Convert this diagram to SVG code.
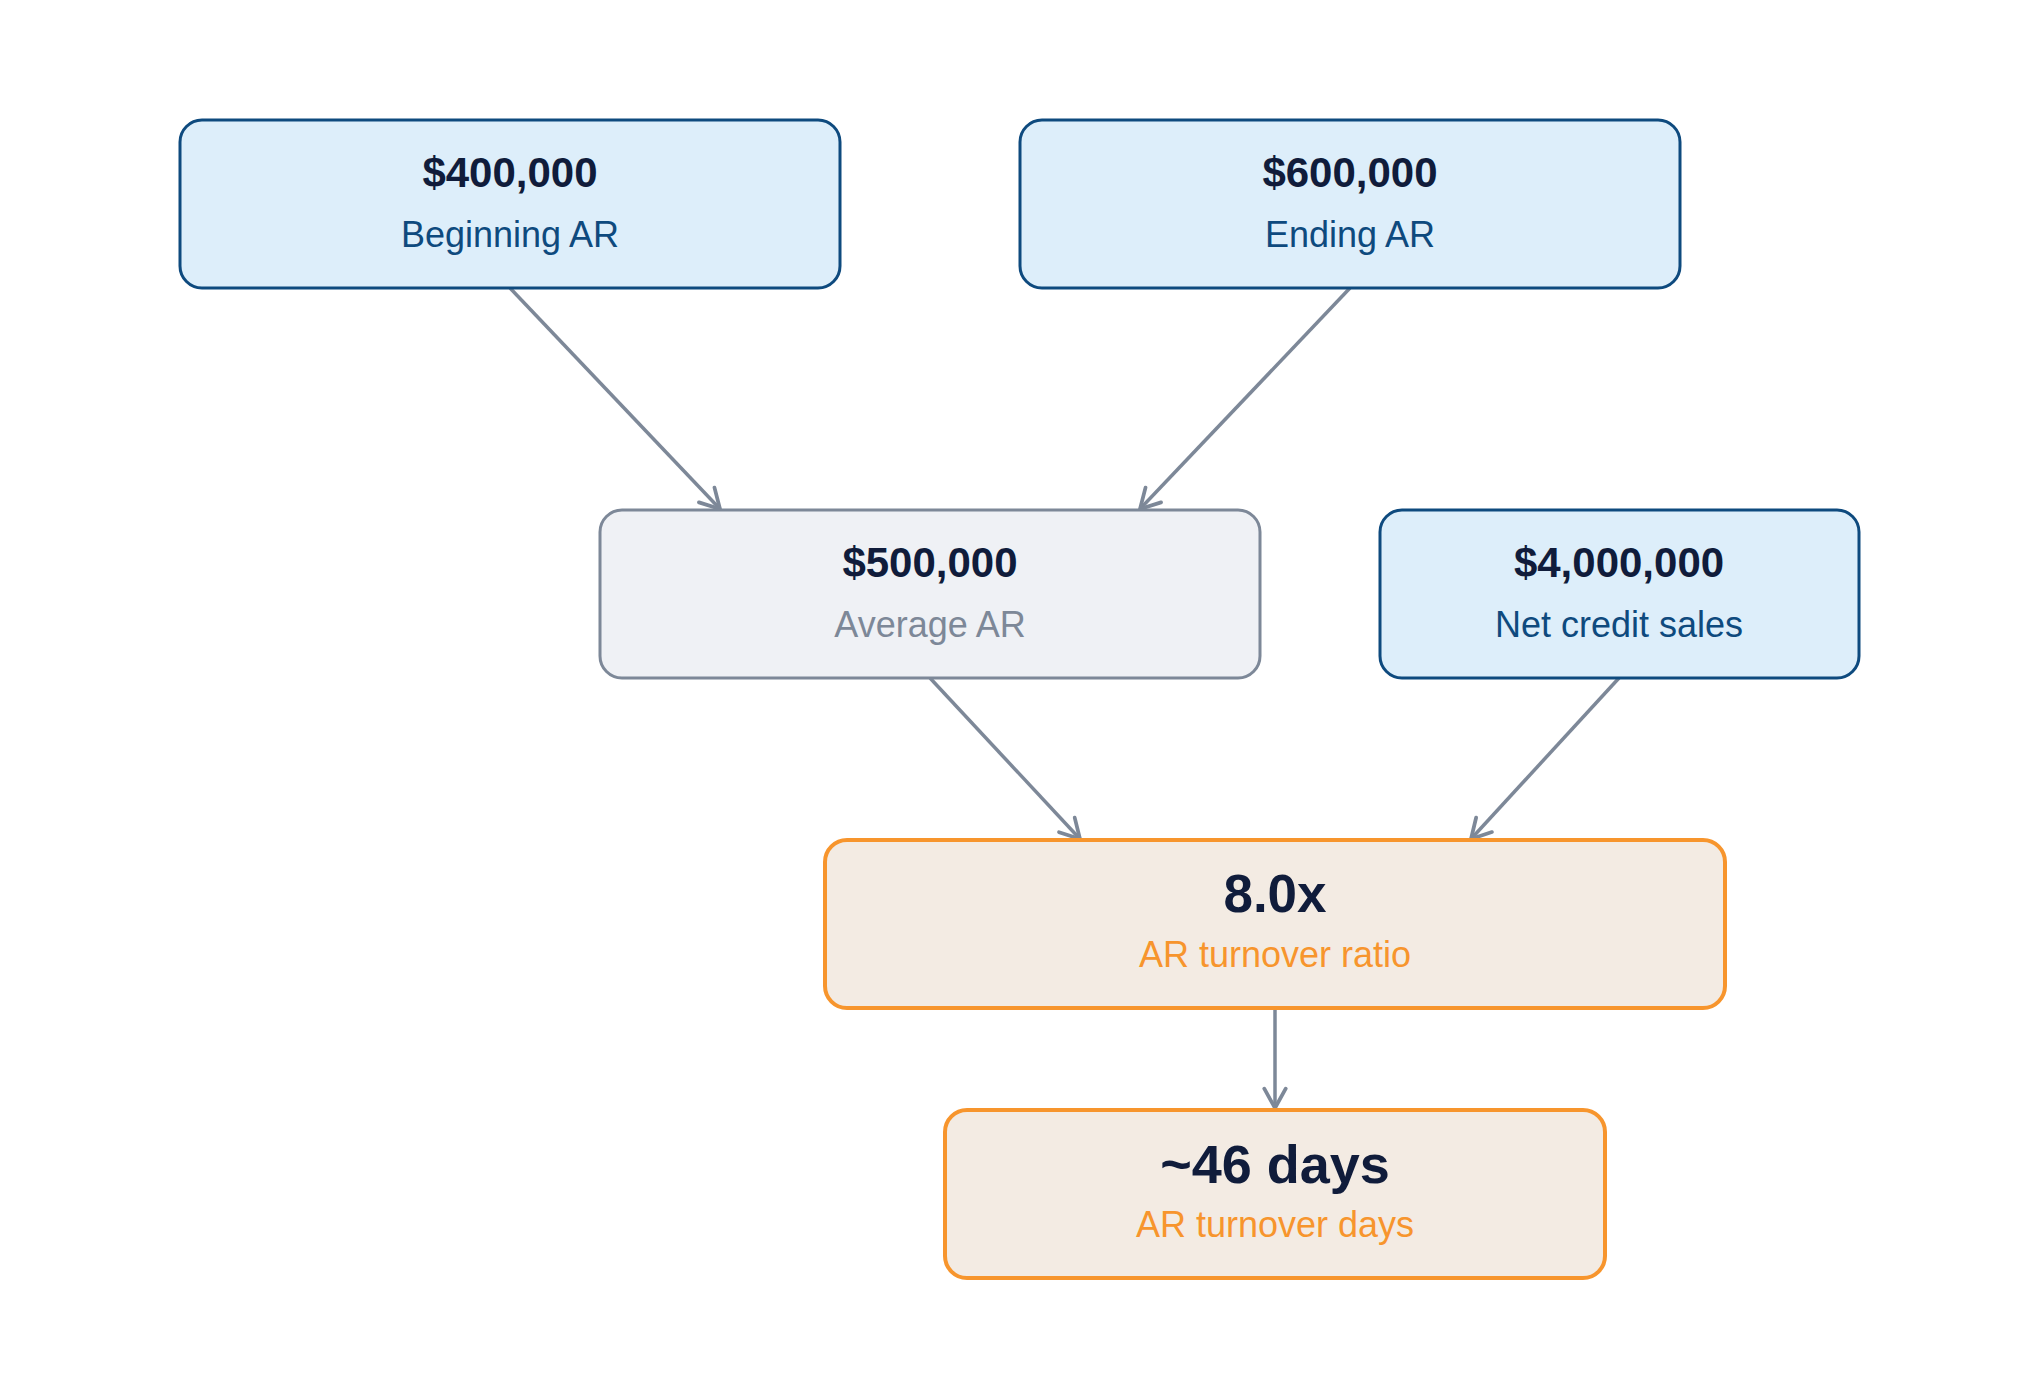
<svg xmlns="http://www.w3.org/2000/svg" width="2040" height="1398" viewBox="0 0 2040 1398">
<defs>
<style>
.box rect{stroke-width:3}
.blue rect{fill:#ddeefa;stroke:#0e4a7e}
.gray rect{fill:#eff1f5;stroke:#7d8898}
.orange rect{fill:#f3ebe3;stroke:#f7952d;stroke-width:4}
.t{font-family:"Liberation Sans",Arial,sans-serif;font-weight:bold;fill:#101c3b;text-anchor:middle}
.s{font-family:"Liberation Sans",Arial,sans-serif;font-size:36px;text-anchor:middle}
.blue .s{fill:#0e4a7e}
.gray .s{fill:#7d8898}
.orange .s{fill:#f7952d}
.edge{stroke:#7d8898;stroke-width:3.5;fill:none;marker-end:url(#arr)}
</style>
<marker id="arr" markerUnits="userSpaceOnUse" orient="auto" refX="0" refY="0" markerWidth="30" markerHeight="30" viewBox="-22 -14 26 28" overflow="visible">
<path d="M-18,-10 L0,0 L-18,10" fill="none" stroke="#7d8898" stroke-width="3.5" stroke-linecap="round" stroke-linejoin="round"/>
</marker>
</defs>
<rect width="2040" height="1398" fill="#ffffff"/>
<g id="connectors">
<line class="edge" x1="510" y1="288" x2="720" y2="509"/>
<line class="edge" x1="1350" y1="288" x2="1140" y2="509"/>
<line class="edge" x1="930" y1="678" x2="1080" y2="839"/>
<line class="edge" x1="1619" y1="678" x2="1471" y2="839"/>
<line class="edge" x1="1275" y1="1008" x2="1275" y2="1108"/>
</g>
<g id="beginning-ar" class="box blue">
<rect x="180" y="120" width="660" height="168" rx="22"/>
<text class="t" x="510" y="187" font-size="42">$400,000</text>
<text class="s" x="510" y="247">Beginning AR</text>
</g>
<g id="ending-ar" class="box blue">
<rect x="1020" y="120" width="660" height="168" rx="22"/>
<text class="t" x="1350" y="187" font-size="42">$600,000</text>
<text class="s" x="1350" y="247">Ending AR</text>
</g>
<g id="average-ar" class="box gray">
<rect x="600" y="510" width="660" height="168" rx="22"/>
<text class="t" x="930" y="577" font-size="42">$500,000</text>
<text class="s" x="930" y="637">Average AR</text>
</g>
<g id="net-credit-sales" class="box blue">
<rect x="1380" y="510" width="479" height="168" rx="22"/>
<text class="t" x="1619" y="577" font-size="42">$4,000,000</text>
<text class="s" x="1619" y="637">Net credit sales</text>
</g>
<g id="ar-turnover-ratio" class="box orange">
<rect x="825" y="840" width="900" height="168" rx="22"/>
<text class="t" x="1275" y="912" font-size="53">8.0x</text>
<text class="s" x="1275" y="967">AR turnover ratio</text>
</g>
<g id="ar-turnover-days" class="box orange">
<rect x="945" y="1110" width="660" height="168" rx="22"/>
<text class="t" x="1275" y="1183" font-size="54">~46 days</text>
<text class="s" x="1275" y="1237">AR turnover days</text>
</g>
</svg>
